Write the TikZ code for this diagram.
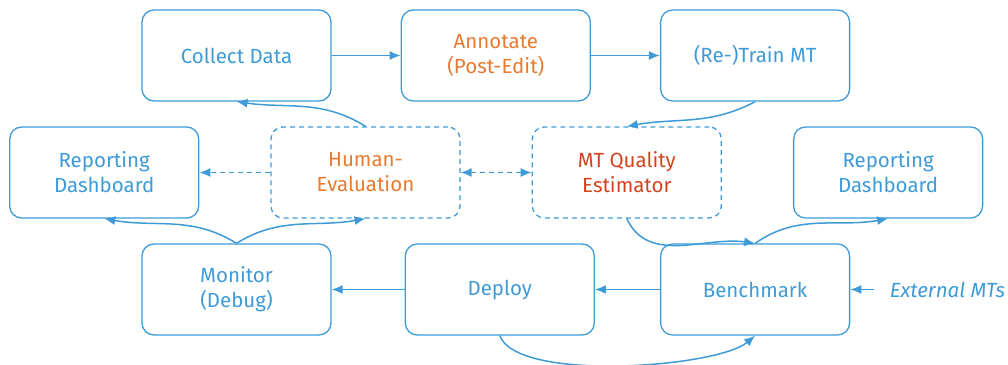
\documentclass[tikz,border=0pt]{standalone}
\usepackage{fontspec}
\setmainfont{Fira Sans}
\usetikzlibrary{arrows.meta}
\usetikzlibrary{positioning}
\definecolor{flowblue}{RGB}{62,155,215}
\definecolor{annorange}{RGB}{232,122,48}
\definecolor{qered}{RGB}{210,68,30}

\begin{document}
\begin{tikzpicture}[
x=1pt, y=1pt,
auto,
font=\fontsize{20.5}{25}\selectfont,
box/.style ={rectangle, rounded corners=12pt, draw=flowblue, line width=1.3pt,
  text=flowblue, align=center,
  minimum width=189pt, minimum height=91pt},
dbox/.style ={box, dash pattern=on 5pt off 4pt},
tip/.style ={Latex[length=11pt,width=9pt]},
line/.style ={draw=flowblue, line width=1.5pt, -{Latex[length=11pt,width=9pt]}},
dotline/.style ={line, dash pattern=on 5pt off 4pt}
]
\useasboundingbox (0,0) rectangle (1008,364);

\node[box] (collect) at (236.5,308.5) {Collect Data};
\node[box, text=annorange] (annot) [right=69pt of collect] {Annotate\\(Post-Edit)};
\node[box] (train) [right=69pt of annot] {(Re-)Train MT};

\node[dbox, text=annorange] (human) at (365.5,191.5) {Human-\\Evaluation};
\node[box] (repleft) [left=71pt of human] {Reporting\\Dashboard};
\node[dbox, text=qered] (qe) [right=71pt of human] {MT Quality\\Estimator};
\node[box] (repright) [right=71pt of qe] {Reporting\\Dashboard};

\node[box] (monitor) at (236.5,74.5) {Monitor\\(Debug)};
\node[box] (deploy) [right=73pt of monitor] {Deploy};
\node[box] (bench) [right=65pt of deploy] {Benchmark};
\node[text=flowblue, font=\fontsize{20.5}{25}\selectfont\itshape] (ext) [right=36pt of bench] {External MTs};

\path[line] (collect) -- (annot);
\path[line] (annot) -- (train);
\path[line] (train.south) to[out=208,in=10] (qe.north);
\path[line] (human.north) to[out=148,in=-8] (collect.south);
\path[dotline] (human) -- (repleft);
\path[dotline, {Latex[length=11pt,width=9pt]}-{Latex[length=11pt,width=9pt]}] (human) -- (qe);
\path[line] (qe.south) to[out=-65,in=172] (bench.north);
\path[line] (bench.north) to[out=35,in=190] (repright.south);
\path[line] (bench) -- (deploy);
\path[line] (deploy) -- (monitor);
\path[line] (monitor.north) to[out=148,in=-10] (repleft.south);
\path[line] (monitor.north) to[out=32,in=190] (human.south);
\path[line] (deploy.south) to[out=-70,in=-140,looseness=0.5] (bench.south);
\path[line, shorten <=12pt] (ext) -- (bench);
\end{tikzpicture}
\end{document}
